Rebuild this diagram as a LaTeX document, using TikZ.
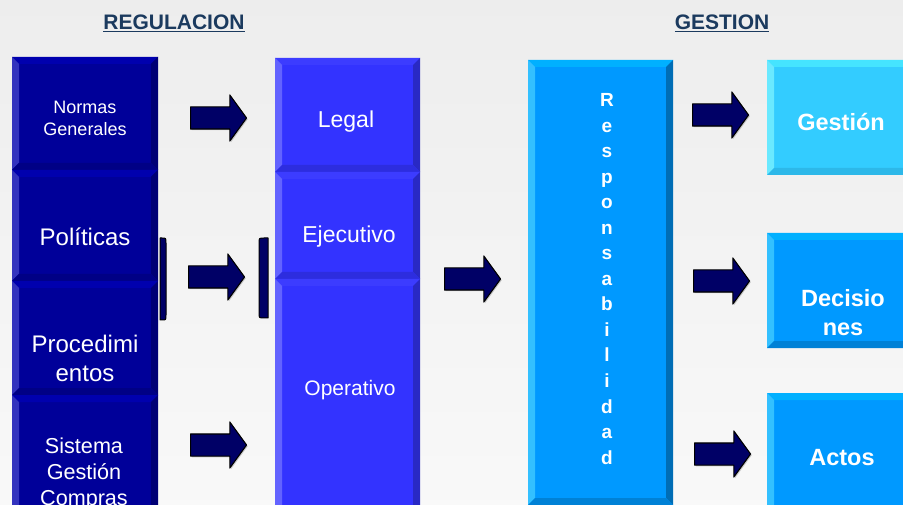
\documentclass[tikz,border=0pt]{standalone}
\usepackage{fontspec}
\setmainfont{Liberation Sans}
\usetikzlibrary{shapes.arrows,shadows}
\definecolor{navy}{HTML}{000066}
\definecolor{titleblue}{HTML}{1B3A5E}
\definecolor{regface}{HTML}{000099}
\definecolor{reglight}{HTML}{0000AE}
\definecolor{regdark}{HTML}{000075}
\definecolor{midface}{HTML}{3333FF}
\definecolor{midlight}{HTML}{3C3CFF}
\definecolor{middark}{HTML}{2929C4}
\definecolor{respface}{HTML}{0099FF}
\definecolor{resplight}{HTML}{00B0FF}
\definecolor{respdark}{HTML}{006DB5}
\definecolor{gesface}{HTML}{33CCFF}
\definecolor{geslight}{HTML}{45E4FF}
\definecolor{gesdark}{HTML}{28A8D6}
\begin{document}
\begin{tikzpicture}[x=1pt,y=-1pt,line join=round]
  \tikzset{
    bevel/.style n args={3}{fill=#1, inner sep=0pt, path picture={
        \coordinate (bnw) at (path picture bounding box.north west);
        \coordinate (bne) at (path picture bounding box.north east);
        \coordinate (bsw) at (path picture bounding box.south west);
        \coordinate (bse) at (path picture bounding box.south east);
        \fill[#2] (bnw) -- (bne) -- ([shift={(-7pt,-7pt)}]bne) -- ([shift={(7pt,-7pt)}]bnw) -- cycle;
        \fill[#2!80!white] (bnw) -- ([shift={(7pt,-7pt)}]bnw) -- ([shift={(7pt,7pt)}]bsw) -- (bsw) -- cycle;
        \fill[#3] (bne) -- (bse) -- ([shift={(-7pt,7pt)}]bse) -- ([shift={(-7pt,-7pt)}]bne) -- cycle;
        \fill[#3!55!#1] (bsw) -- (bse) -- ([shift={(-7pt,7pt)}]bse) -- ([shift={(7pt,7pt)}]bsw) -- cycle;
      }},
    regbox/.style={bevel={regface}{reglight}{regdark}, minimum width=146pt},
    midbox/.style={bevel={midface}{midlight}{middark}, minimum width=145pt},
    respbox/.style={bevel={respface}{resplight}{respdark}, minimum width=145pt},
    gesbox/.style={bevel={gesface}{geslight}{gesdark}, minimum width=150pt},
    actbox/.style={bevel={respface}{resplight}{respdark}, minimum width=150pt},
    boxtext/.style={text=white, align=center, inner sep=0pt},
    boldtext/.style={boxtext, font=\bfseries\fontsize{23.5}{29}\selectfont},
    title/.style={text=titleblue, inner sep=0pt, anchor=base, font=\bfseries\fontsize{21}{25}\selectfont},
    blockarrow/.style={single arrow, anchor=tail, fill=navy, draw=black, line width=1.1pt,
      minimum height=56pt, inner xsep=0pt, inner ysep=10.5pt,
      single arrow head extend=12pt, single arrow tip angle=108,
      drop shadow={shadow xshift=1.2pt, shadow yshift=-1.2pt, fill=gray, opacity=.4}},
    bracket/.style={fill=navy, draw=black, line width=1pt}
  }
  \useasboundingbox (0,0) rectangle (903,505);
  \clip (0,0) rectangle (903,505);
  \shade[top color=black!7, bottom color=black!2.5] (0,0) rectangle (903,505);

  % titles
  \node[title] (regulacion) at (174,30) {\underline{REGULACION}};
  \node[title] (gestiontit) at (722,30) {\underline{GESTION}};

  % regulacion column
  \node[regbox, minimum height=113pt] (normas) at (85,113.5) {};
  \node[regbox, minimum height=111pt] (politicas) at (85,225.5) {};
  \node[regbox, minimum height=114pt] (procedim) at (85,338) {};
  \node[regbox, minimum height=125pt] (sistema) at (85,457.5) {};
  \node[boxtext, font=\fontsize{18}{22}\selectfont] (normasT) at (85,118) {Normas\\Generales};
  \node[boxtext, anchor=base, font=\fontsize{24}{29}\selectfont] (politicasT) at (85,246) {Políticas};
  \node[boxtext, font=\fontsize{24}{29}\selectfont] (procedimT) at (85,358.5) {Procedimi\\entos};
  \node[boxtext, font=\fontsize{21.6}{25.7}\selectfont] (sistemaT) at (84,474) {Sistema\\Gestión\\Compras};

  % niveles
  \node[midbox, minimum height=114pt] (legal) at (347.5,115) {};
  \node[midbox, minimum height=107pt] (ejecutivo) at (347.5,225.5) {};
  \node[midbox, minimum height=241pt] (operativo) at (347.5,399.5) {};
  \node[boxtext, anchor=base, font=\fontsize{23}{28}\selectfont] (legalT) at (346,128) {Legal};
  \node[boxtext, anchor=base, font=\fontsize{23}{28}\selectfont] (ejecutivoT) at (349,243) {Ejecutivo};
  \node[boxtext, anchor=base, font=\fontsize{21}{25}\selectfont] (operativoT) at (350,395) {Operativo};

  % responsabilidad
  \node[respbox, minimum height=445pt] (resp) at (600.5,282.5) {};
  \foreach \c [count=\i] in {R,e,s,p,o,n,s,a,b,i,l,i,d,a,d}
    \node[boxtext, anchor=base, font=\bfseries\fontsize{19}{23}\selectfont] (resp\i) at (607,81.5+25.5*\i) {\c};

  % gestion column
  \node[gesbox, minimum height=115pt] (gestion) at (842,117.5) {};
  \node[actbox, minimum height=115pt] (decisiones) at (842,290.5) {};
  \node[actbox, minimum height=127pt] (actos) at (842,456.5) {};
  \node[boldtext, anchor=base] (gestionT) at (841,131) {Gestión};
  \node[boldtext] (decisionesT) at (843,312.5) {Decisio\\nes};
  \node[boldtext, anchor=base] (actosT) at (842,465) {Actos};

  % flechas
  \node[blockarrow] (arr1) at (190,118) {};
  \node[blockarrow] (arr2) at (188,277) {};
  \node[blockarrow] (arr3) at (190,445) {};
  \node[blockarrow] (arr4) at (444,279) {};
  \node[blockarrow] (arr5) at (692,115) {};
  \node[blockarrow] (arr6) at (693,281) {};
  \node[blockarrow] (arr7) at (694,454) {};

  % corchetes
  \draw[bracket] (160,238) -- (162,238) .. controls (166,238) .. (166,243)
    -- (166,315) .. controls (166,320) .. (162,320) -- (160,320) -- cycle;
  \draw[bracket] (268,238) -- (264,238) .. controls (259,238) .. (259,243)
    -- (259,313) .. controls (259,318) .. (264,318) -- (268,318) -- cycle;
\end{tikzpicture}
\end{document}
